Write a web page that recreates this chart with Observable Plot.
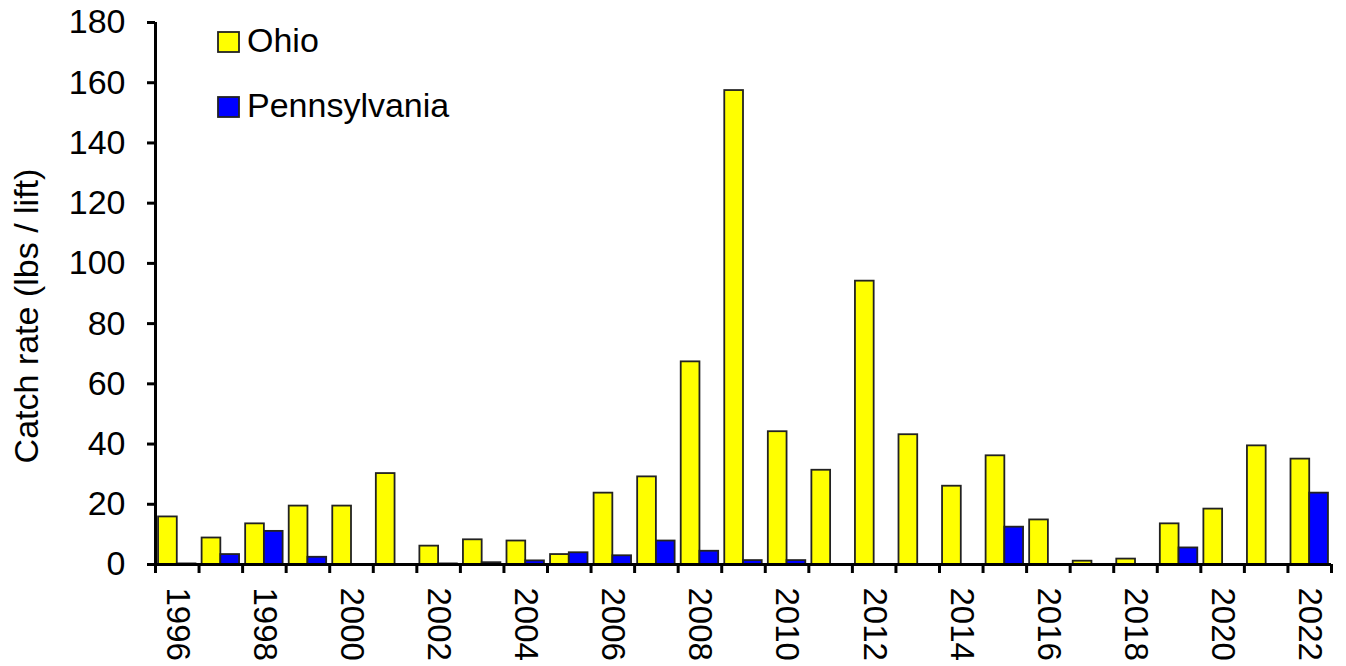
<!DOCTYPE html>
<html>
<head>
<meta charset="utf-8">
<script src="https://cdn.jsdelivr.net/npm/d3@7"></script>
<script src="https://cdn.jsdelivr.net/npm/@observablehq/plot@0.6"></script>
<style>
  html, body { margin: 0; padding: 0; background: #fff; }
  #chart { width: 1346px; height: 666px; }
</style>
</head>
<body>
<div id="chart"></div>
<script>
const years = d3.range(1996, 2023);
const ohio = [15.8, 8.8, 13.5, 19.4, 19.4, 30.2, 6.1, 8.2, 7.8, 3.3,
              23.7, 29.1, 67.3, 157.4, 44.1, 31.3, 94.1, 43.1, 26.0, 36.1,
              14.8, 1.1, 1.8, 13.5, 18.4, 39.4, 35.0];
const pennsylvania = [0.2, 3.3, 11.0, 2.4, 0, 0, 0.2, 0.6, 1.2, 3.9,
                      2.9, 7.8, 4.4, 1.3, 1.3, 0, 0, 0, 0, 12.4,
                      0, 0, 0, 5.5, 0, 0, 23.7];
const yTicks = [0, 20, 40, 60, 80, 100, 120, 140, 160, 180];
const xLabelYears = [1996, 1998, 2000, 2002, 2004, 2006, 2008, 2010, 2012, 2014, 2016, 2018, 2020, 2022];
const seriesNames = ["Ohio", "Pennsylvania"];
const seriesColors = ["#ffff00", "#0000ff"];
const yLabel = "Catch rate (lbs / lift)";

const ohioData = years.map((y, i) => ({year: y, value: ohio[i]}));
const paData = years.map((y, i) => ({year: y, value: pennsylvania[i]}));
const boundaries = d3.range(1995.5, 2023, 1);

const font = "'Liberation Sans', Arial, sans-serif";

const plot = Plot.plot({
  width: 1346,
  height: 666,
  marginLeft: 155,
  marginRight: 15,
  marginTop: 22,
  marginBottom: 102,
  style: {fontFamily: font, fontSize: "33px", background: "#fff", color: "#000"},
  x: {type: "linear", domain: [1995.5, 2022.5]},
  y: {domain: [0, 180]},
  marks: [
    Plot.rectY(ohioData, {x1: d => d.year - 0.43, x2: d => d.year, y: "value",
      fill: seriesColors[0], stroke: "#222", strokeWidth: 1.8}),
    Plot.rectY(paData, {x1: d => d.year, x2: d => d.year + 0.43, y: "value",
      fill: seriesColors[1], stroke: "#222", strokeWidth: 1.8}),
    Plot.axisY({ticks: yTicks, tickSize: 8, tickPadding: 22, strokeWidth: 3, fontSize: 34, label: null}),
    Plot.axisX({ticks: boundaries, tickSize: 9, tickFormat: () => "", strokeWidth: 3, label: null}),
    Plot.text(xLabelYears, {x: d => d, frameAnchor: "bottom", dy: 23, rotate: 90,
      text: d => String(d), textAnchor: "start", lineAnchor: "middle", fontSize: 33, fill: "#000"}),
    Plot.ruleX([1995.5], {stroke: "#000", strokeWidth: 3}),
    Plot.ruleY([0], {stroke: "#000", strokeWidth: 3})
  ]
});

const svg = d3.select(plot);
// y axis title
svg.append("text")
  .attr("transform", "translate(29,316) rotate(-90)")
  .attr("text-anchor", "middle")
  .attr("dominant-baseline", "middle")
  .attr("font-size", 34)
  .attr("font-family", font)
  .attr("fill", "#000")
  .text(yLabel);

// legend inside plot area
const legendY = [32, 97];
seriesNames.forEach((name, i) => {
  svg.append("rect")
    .attr("x", 218).attr("y", legendY[i])
    .attr("width", 21).attr("height", 20)
    .attr("fill", seriesColors[i])
    .attr("stroke", "#222").attr("stroke-width", 1.8);
  svg.append("text")
    .attr("x", 247).attr("y", legendY[i] + 19.5)
    .attr("text-anchor", "start")
    .attr("font-size", 34)
    .attr("font-family", font)
    .attr("fill", "#000")
    .text(name);
});

document.getElementById("chart").appendChild(plot);
</script>
</body>
</html>
